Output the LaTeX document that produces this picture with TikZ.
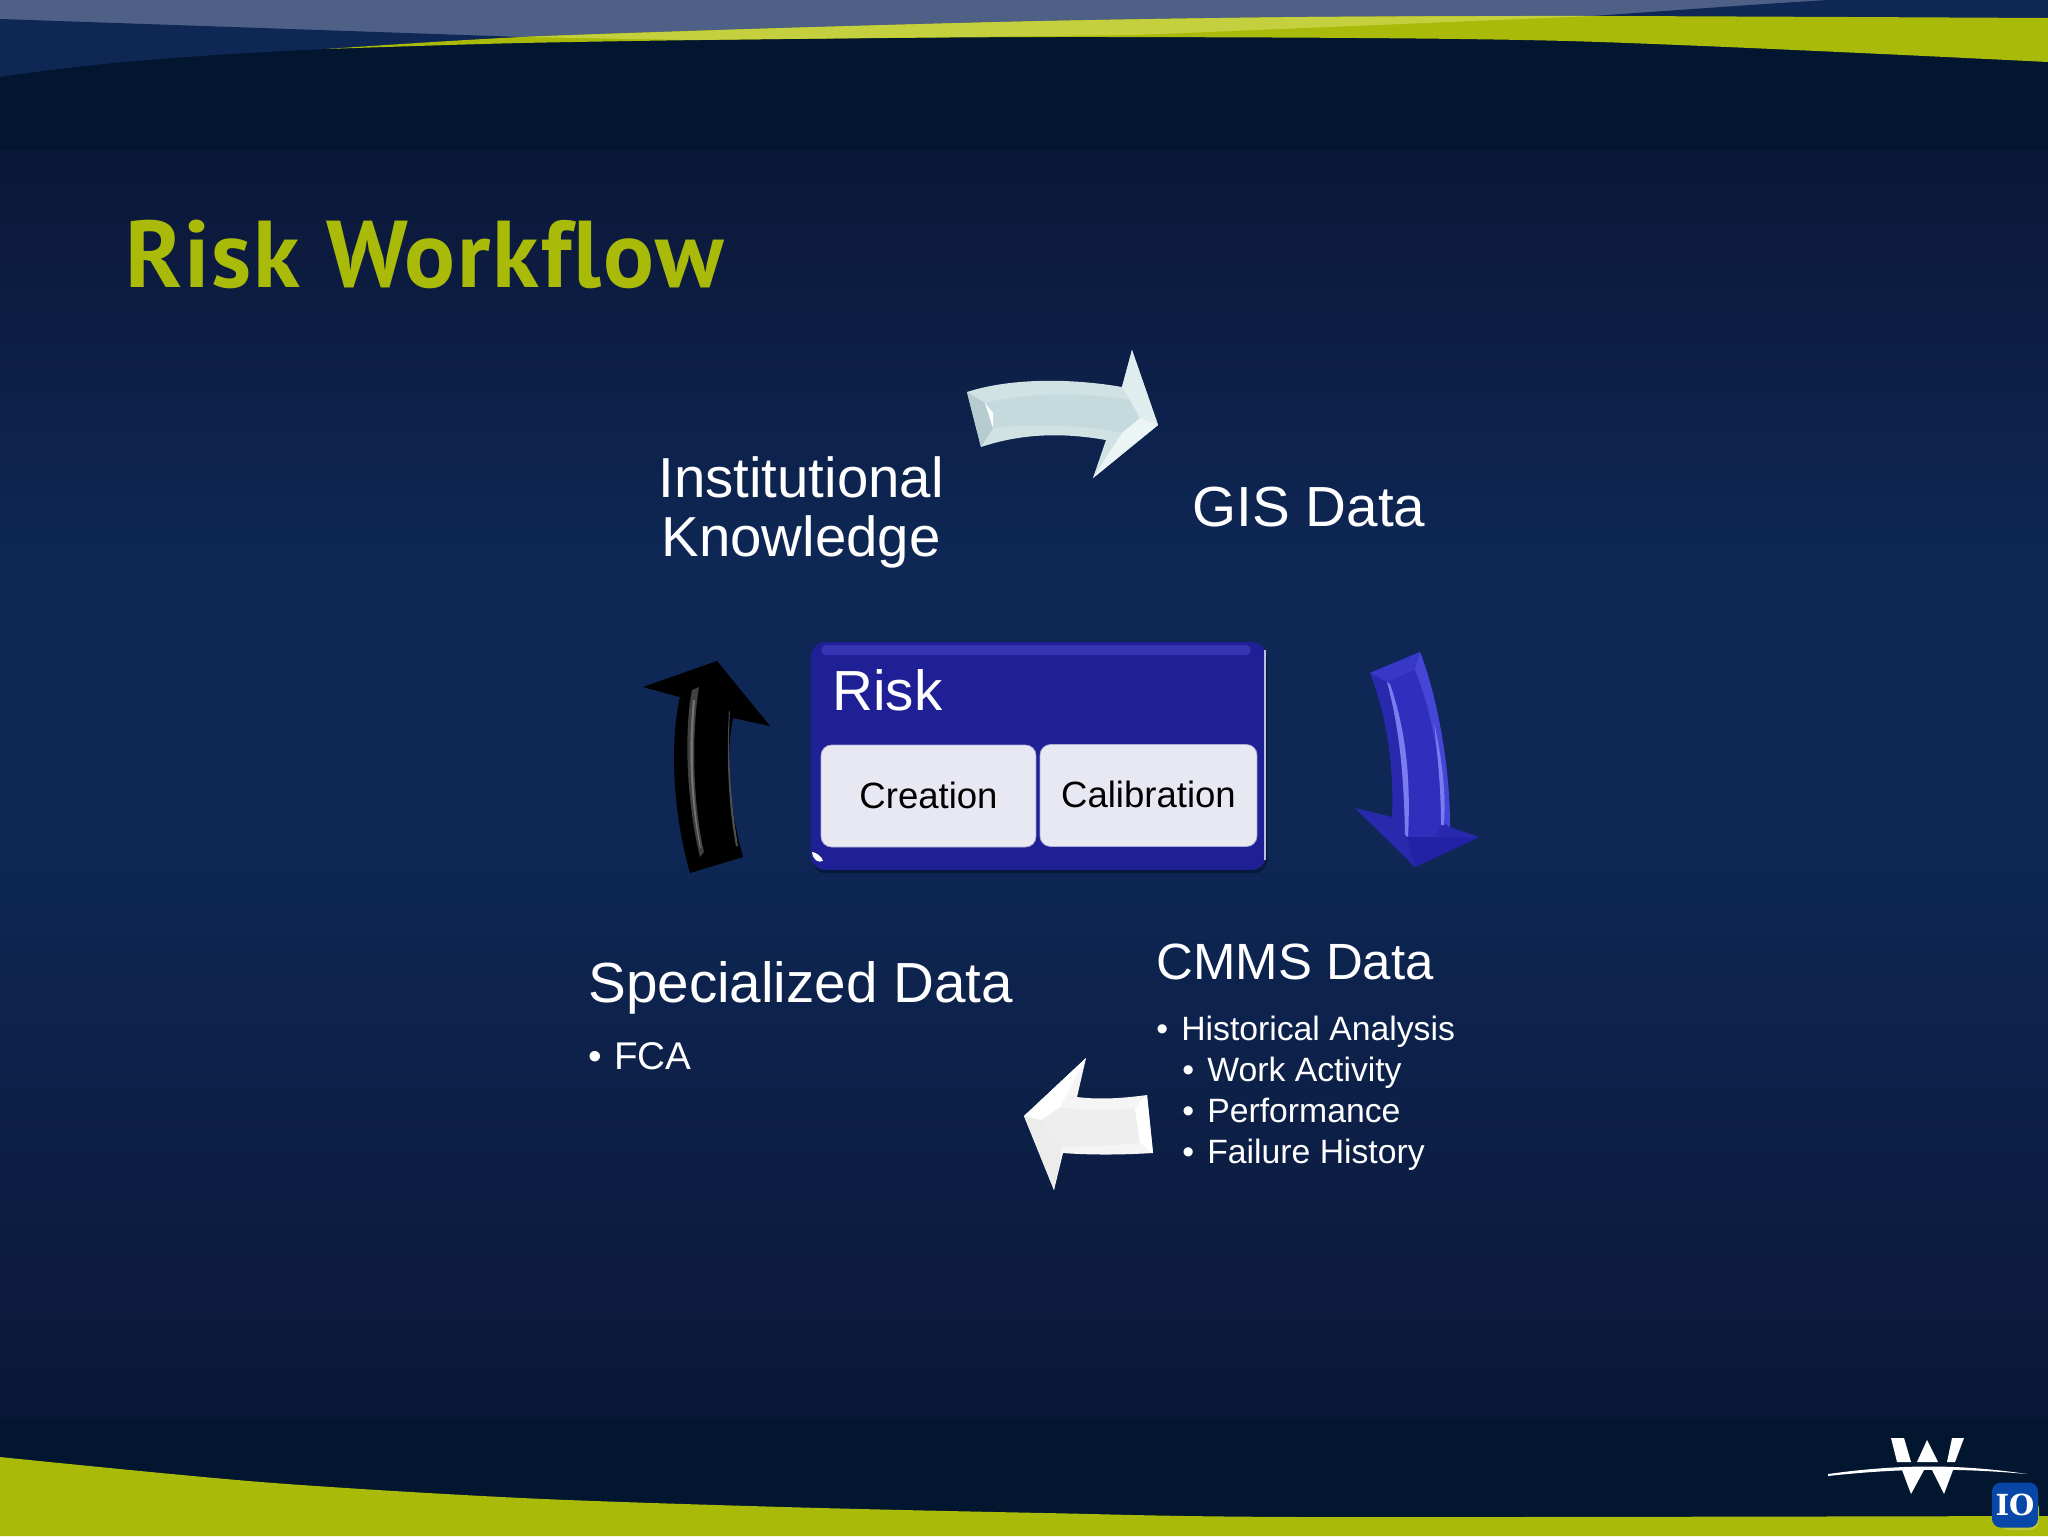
\documentclass[tikz,border=0pt]{standalone}
\usepackage{fontspec}
\setmainfont{Liberation Sans}
\newfontfamily\titlefont[LetterSpace=2,Ligatures=NoCommon]{PT Sans}
\newfontfamily\badgefont{DejaVu Serif}
\definecolor{lime}{HTML}{A9BA08}
\definecolor{limelt}{HTML}{C4D03E}
\definecolor{slate}{HTML}{4F6087}
\definecolor{navy}{HTML}{0E2755}
\definecolor{navydk}{HTML}{021630}
\definecolor{navyfade}{HTML}{0B1737}
\definecolor{riskblue}{HTML}{1F1F96}
\definecolor{riskstrip}{HTML}{3636B4}
\definecolor{paper}{HTML}{E8E8F2}
\definecolor{palebase}{HTML}{D0E2E4}
\definecolor{palecore}{HTML}{C4DADD}
\definecolor{paleup}{HTML}{DFEDEE}
\definecolor{palelow}{HTML}{ECF5F5}
\definecolor{paleleft}{HTML}{B6CCD0}
\definecolor{bluecore}{HTML}{2F2FBE}
\definecolor{bluetop}{HTML}{3838C8}
\definecolor{blueright}{HTML}{4646D6}
\definecolor{blueleft}{HTML}{2929AE}
\definecolor{bluelight}{HTML}{7C7CF0}
\definecolor{bluehead}{HTML}{2222A6}
\tikzset{
  label/.style={text=white,inner sep=0pt,anchor=base west},
  biglabel/.style={label,font=\fontsize{32.2}{34}\selectfont},
  itemlabel/.style={label,font=\fontsize{19.2}{22}\selectfont},
  subbox/.style={fill=paper,draw=paper!70!riskblue,rounded corners=6pt,minimum width=4.3cm,minimum height=2.04cm,
    inner sep=0pt,text=black,font=\fontsize{20.8}{24}\selectfont},
}
\begin{document}
\begin{tikzpicture}[x=0.02cm,y=-0.02cm]
    \useasboundingbox (0,0) rectangle (2048,1536);
    % background
    \fill[navydk] (0,0) rectangle (2048,1536);
    \fill[top color=navyfade,bottom color=navy] (0,150) rectangle (2048,560);
    \fill[navy] (0,560) rectangle (2048,850);
    \fill[top color=navy,bottom color=navyfade] (0,850) rectangle (2048,1417);
    % top band
    \fill[slate] (0,0) rectangle (2048,50);
    \fill[navy] (1593,16) .. controls (1680,10) and (1760,4) .. (1828,0) -- (2048,0) -- (2048,20) -- cycle;
    \fill[navy] (0,19) -- (522,37) -- (326,49) -- (0,77) -- cycle;
    \fill[navydk] (0,77) .. controls (100,62) and (200,55) .. (326,49) -- (522,37) -- (2048,20) -- (2048,150) -- (0,150) -- cycle;
    \fill[lime] plot[smooth] coordinates {(326,49) (522,37) (784,28) (1045,21) (1306,17) (1593,16) (2048,18)}
        -- plot[smooth] coordinates {(2048,62) (1567,41) (1110,37) (784,39) (522,43) (326,49)} -- cycle;
    \fill[limelt] plot[smooth] coordinates {(522,37) (784,28) (1045,21) (1306,17) (1593,16)}
        -- (1136,35) -- (692,40) -- cycle;
    % bottom band
    \fill[navydk] (0,1417) rectangle (2048,1536);
    \fill[lime] plot[smooth] coordinates {(0,1457) (261,1482) (522,1498) (784,1507) (1045,1513) (1306,1517) (2048,1516)}
        -- (2048,1536) -- (0,1536) -- cycle;

    % title
    \node[label,text=lime,font=\titlefont\bfseries\fontsize{54}{58}\selectfont] (title) at (125,287) {Risk Workflow};

    % arrow top
    \fill[palebase] (967,392) .. controls (1010,378) and (1070,378) .. (1122,387) -- (1132,350) -- (1158,425) -- (1093,478) -- (1106,440) .. controls (1060,432) and (1020,434) .. (981,447) -- cycle;
    \fill[palecore] (985,403) .. controls (1030,392) and (1080,392) .. (1130,400) -- (1140,418) -- (1122,433) .. controls (1080,424) and (1030,424) .. (993,428) -- cycle;
    \fill[paleup] (1132,350) -- (1158,425) -- (1140,418) -- (1130,400) -- (1122,387) -- cycle;
    \fill[palelow] (1158,425) -- (1093,478) -- (1122,433) -- (1140,418) -- cycle;
    \fill[paleleft] (967,392) -- (985,403) -- (993,428) -- (981,447) -- cycle;
    \fill[white] (985,403) -- (993,413) -- (993,428) -- cycle;

    % arrow right
    \fill[blueleft] (1370,673) -- (1420,652) .. controls (1435,690) and (1450,760) .. (1450,827) -- (1479,837) -- (1415,867) -- (1355,808) -- (1392,817) .. controls (1394,770) and (1388,720) .. (1370,673) -- cycle;
    \fill[bluecore] (1387,682) -- (1415,670) .. controls (1428,700) and (1442,760) .. (1443,822) -- (1435,837) -- (1407,837) .. controls (1408,780) and (1403,730) .. (1387,682) -- cycle;
    \fill[bluetop] (1370,673) -- (1420,652) -- (1415,670) -- (1387,682) -- cycle;
    \fill[blueright] (1420,652) .. controls (1435,690) and (1450,760) .. (1450,827) -- (1443,822) .. controls (1442,760) and (1428,700) .. (1415,670) -- cycle;
    \fill[bluelight] (1390,684) .. controls (1406,730) and (1411,780) .. (1408,837) -- (1405,835) .. controls (1404,780) and (1400,730) .. (1387,682) -- cycle;
    \fill[bluelight] (1434,722) .. controls (1442,760) and (1446,790) .. (1444,825) -- (1441,825) .. controls (1441,790) and (1438,760) .. (1434,722) -- cycle;
    \fill[bluehead] (1415,867) -- (1479,837) -- (1435,837) -- (1407,837) -- cycle;

    % arrow left
    \fill[black] (717,661) -- (643,687) -- (680,697) .. controls (670,740) and (672,810) .. (690,873) -- (743,857) .. controls (730,810) and (725,760) .. (733,718) -- (770,726) -- cycle;
    \fill[black!75] (692,690) -- (699,687) .. controls (692,730) and (692,800) .. (704,852) -- (700,857) .. controls (686,800) and (684,730) .. (692,690) -- cycle;
    \fill[black!55] (693,700) .. controls (688,750) and (690,800) .. (700,848) -- (701,848) .. controls (692,800) and (691,750) .. (695,700) -- cycle;
    \fill[black!70] (730,710) .. controls (727,760) and (732,810) .. (738,846) -- (736,846) .. controls (729,810) and (726,760) .. (729,712) -- cycle;

    % arrow bottom
    \fill[white!92!gray] (1024,1116) -- (1086,1058) -- (1077,1097) .. controls (1100,1100) and (1125,1098) .. (1147,1095) -- (1153,1153) .. controls (1120,1155) and (1090,1155) .. (1063,1153) -- (1054,1190) -- cycle;
    \fill[white!87!gray] (1060,1107) .. controls (1085,1111) and (1110,1110) .. (1135,1108) -- (1140,1143) .. controls (1110,1146) and (1085,1147) .. (1062,1147) -- (1041,1120) -- cycle;
    \fill[white] (1024,1116) -- (1086,1058) -- (1060,1107) -- (1041,1120) -- cycle;
    \fill[white!85!gray] (1024,1116) -- (1041,1120) -- (1062,1147) -- (1054,1190) -- cycle;
    \fill[white] (1147,1095) -- (1153,1153) -- (1140,1143) -- (1135,1108) -- cycle;

    % risk box
    \node[fill=navydk!70!navy,rounded corners=8pt,minimum width=9.1cm,minimum height=4.5cm] (riskshadow) at (1040,761) {};
    \node[fill=riskblue,rounded corners=8pt,minimum width=9.1cm,minimum height=4.56cm] (riskbox) at (1038.5,756) {};
    \fill[riskstrip,rounded corners=3pt] (821,645) rectangle (1251,655);
    \fill[white!70!riskblue] (1264,650) rectangle (1266,860);
    \fill[white] (812,852) .. controls (815,852) and (822,856) .. (823,861) .. controls (818,863) and (813,860) .. (812,852) -- cycle;
    \node[biglabel] (risk) at (832,710) {Risk};
    \node[subbox] (creation) at (928.5,796) {\raisebox{1.1pt}{Creation}};
    \node[subbox,minimum width=4.34cm] (calibration) at (1148.5,795.5) {\raisebox{1.1pt}{Calibration}};

    % labels
    \node[text=white,inner sep=0pt,anchor=base,align=center,font=\fontsize{32.1}{33.5}\selectfont] (institutional) at (801,556) {Institutional\\Knowledge};
    \node[label,anchor=base,font=\fontsize{32.2}{34}\selectfont] (gisdata) at (1309,526) {GIS Data};
    \node[biglabel] (specialized) at (588,1002) {Specialized Data};
    \node[itemlabel,font=\fontsize{22}{24}\selectfont] (fca) at (588,1069) {\makebox[14.8pt][l]{•}FCA};
    \node[biglabel,font=\fontsize{29}{32}\selectfont] (cmms) at (1156,979) {CMMS Data};
    \node[itemlabel] (historical) at (1156,1040) {\makebox[14.2pt][l]{•}Historical Analysis};
    \node[itemlabel] (work) at (1182,1081) {\makebox[14.2pt][l]{•}Work Activity};
    \node[itemlabel] (performance) at (1182,1122) {\makebox[14.2pt][l]{•}Performance};
    \node[itemlabel] (failure) at (1182,1163) {\makebox[14.2pt][l]{•}Failure History};

    % logo
    \fill[white] (1828,1474) .. controls (1900,1464) and (1960,1464) .. (2027,1474) .. controls (1960,1468) and (1900,1468) .. (1828,1476) -- cycle;
    \fill[white] (1891,1438) -- (1904,1438) -- (1911,1462) -- (1897,1462) -- cycle;
    \fill[white] (1917,1462) -- (1927,1440) -- (1938,1462) -- cycle;
    \fill[white] (1947,1462) -- (1952,1438) -- (1964,1438) -- (1955,1462) -- cycle;
    \fill[white] (1902,1470) -- (1924,1470) -- (1911,1494) -- cycle;
    \fill[white] (1932,1470) -- (1953,1470) -- (1944,1494) -- cycle;
    \fill[lime!80!white,rounded corners=5pt] (2000,1500) rectangle (2039,1530);
    \node[fill=blue!35!navy!80!cyan,rounded corners=5pt,minimum width=0.92cm,minimum height=0.9cm,inner sep=0pt,text=white,font=\badgefont\bfseries\fontsize{16.5}{16.5}\selectfont] (iobadge) at (2015,1505) {IO};
\end{tikzpicture}
\end{document}
